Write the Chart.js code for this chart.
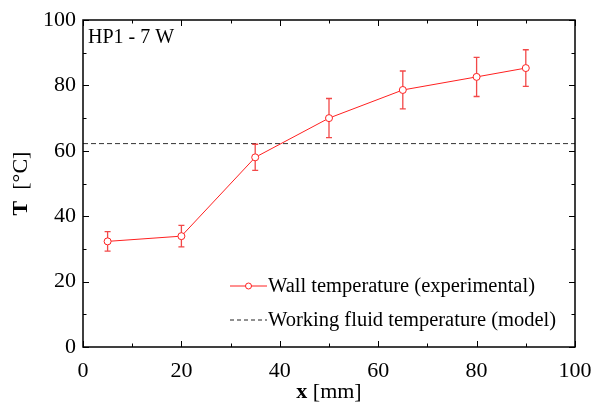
<!DOCTYPE html>
<html>
<head>
<meta charset="utf-8">
<script src="https://cdn.jsdelivr.net/npm/chart.js@4/dist/chart.umd.min.js"></script>
<style>
html,body{margin:0;padding:0;background:#fff;}
#wrap{width:592px;height:405px;position:relative;}
</style>
</head>
<body>
<div id="wrap"><canvas id="c" width="592" height="405"></canvas></div>
<script>
// ---- data ----
const positions = [5, 20, 35, 50, 65, 80, 90];            // x [mm]
const wallTemp = [32.3, 33.9, 58.0, 70.0, 78.6, 82.6, 85.3]; // T [°C]
const wallErr = [3.0, 3.3, 4.0, 6.0, 5.8, 6.0, 5.6];        // ± error
const fluidX = [0, 100];
const fluidT = [62.2, 62.2];
const xTicks = [0, 20, 40, 60, 80, 100];
const yTicks = [0, 20, 40, 60, 80, 100];
const labelWall = 'Wall temperature (experimental)';
const labelFluid = 'Working fluid temperature (model)';
const panelLabel = 'HP1 - 7 W';

const SERIF = '"Liberation Serif", "Times New Roman", serif';

const framePlugin = {
  id: 'frame',
  afterDatasetsDraw(chart) {
    const ctx = chart.ctx, a = chart.chartArea;
    const xs = chart.scales.x, ys = chart.scales.y;
    ctx.save();
    // error bars
    ctx.strokeStyle = 'rgba(240,40,40,0.85)';
    ctx.lineWidth = 1.3;
    for (let i = 0; i < positions.length; i++) {
      const px = xs.getPixelForValue(positions[i]);
      const top = ys.getPixelForValue(wallTemp[i] + wallErr[i]);
      const bot = ys.getPixelForValue(wallTemp[i] - wallErr[i]);
      const cy = ys.getPixelForValue(wallTemp[i]);
      ctx.beginPath();
      ctx.moveTo(px, top); ctx.lineTo(px, cy - 3.5);
      ctx.moveTo(px, cy + 3.5); ctx.lineTo(px, bot);
      ctx.moveTo(px - 3, top); ctx.lineTo(px + 3, top);
      ctx.moveTo(px - 3, bot); ctx.lineTo(px + 3, bot);
      ctx.stroke();
    }
    // frame
    ctx.strokeStyle = '#000';
    ctx.lineWidth = 1.5;
    ctx.strokeRect(a.left, a.top, a.right - a.left, a.bottom - a.top);
    // ticks (inward, mirrored)
    ctx.lineWidth = 1;
    for (let v = 0; v <= 100; v += 10) {
      const len = (v % 20 === 0) ? 6 : 3.5;
      const px = Math.round(xs.getPixelForValue(v)) + 0.5;
      ctx.beginPath();
      ctx.moveTo(px, a.bottom); ctx.lineTo(px, a.bottom - len);
      ctx.moveTo(px, a.top); ctx.lineTo(px, a.top + len);
      ctx.stroke();
      const py = Math.round(ys.getPixelForValue(v)) + 0.5;
      ctx.beginPath();
      ctx.moveTo(a.left, py); ctx.lineTo(a.left + len, py);
      ctx.moveTo(a.right, py); ctx.lineTo(a.right - len, py);
      ctx.stroke();
    }
    // panel label
    ctx.fillStyle = '#000';
    ctx.font = '20px ' + SERIF;
    ctx.textAlign = 'left';
    ctx.textBaseline = 'alphabetic';
    ctx.fillText(panelLabel, a.left + 5, a.top + 23);
    // legend
    const lx0 = 230, lx1 = 267;
    const ly1 = 286, ly2 = 320;
    ctx.strokeStyle = '#ff2020';
    ctx.lineWidth = 1;
    ctx.beginPath(); ctx.moveTo(lx0, ly1); ctx.lineTo(lx1, ly1); ctx.stroke();
    ctx.beginPath(); ctx.arc((lx0 + lx1) / 2, ly1, 3, 0, Math.PI * 2);
    ctx.fillStyle = '#fff'; ctx.fill(); ctx.stroke();
    ctx.strokeStyle = '#222';
    ctx.setLineDash([4, 3]);
    ctx.beginPath(); ctx.moveTo(lx0, ly2); ctx.lineTo(lx1, ly2); ctx.stroke();
    ctx.setLineDash([]);
    ctx.fillStyle = '#000';
    ctx.font = '20.5px ' + SERIF;
    ctx.textBaseline = 'middle';
    ctx.fillText(labelWall, lx1 + 1, ly1 + 1);
    ctx.fillText(labelFluid, lx1 + 1, ly2 + 1);
    // axis titles
    const drawMixed = (parts, cx, cy) => {
      let w = 0;
      parts.forEach(p => { ctx.font = p[1] + ' 22px ' + SERIF; w += ctx.measureText(p[0]).width; });
      let x = cx - w / 2;
      parts.forEach(p => { ctx.font = p[1] + ' 22px ' + SERIF; ctx.fillText(p[0], x, cy); x += ctx.measureText(p[0]).width; });
    };
    ctx.textBaseline = 'middle';
    drawMixed([['x', 'bold'], [' [mm]', 'normal']], (a.left + a.right) / 2, 392);
    ctx.save();
    ctx.translate(21, (a.top + a.bottom) / 2);
    ctx.rotate(-Math.PI / 2);
    drawMixed([['T', 'bold'], ['  [°C]', 'normal']], 0, 0);
    ctx.restore();
    ctx.restore();
  }
};

new Chart(document.getElementById('c'), {
  type: 'scatter',
  data: {
    datasets: [
      {
        label: labelWall,
        data: positions.map((x, i) => ({ x: x, y: wallTemp[i] })),
        showLine: true,
        borderColor: '#ff2020',
        borderWidth: 1,
        backgroundColor: '#ffffff',
        pointBorderColor: '#ff2020',
        pointBackgroundColor: '#ffffff',
        pointRadius: 3.5,
        pointBorderWidth: 1,
        order: 1
      },
      {
        label: labelFluid,
        data: fluidX.map((x, i) => ({ x: x, y: fluidT[i] })),
        showLine: true,
        borderColor: '#333',
        borderWidth: 1,
        borderDash: [5, 3],
        pointRadius: 0,
        order: 2
      }
    ]
  },
  options: {
    responsive: false,
    animation: false,
    layout: { padding: { top: 20, right: 17, left: 0, bottom: 0 } },
    plugins: { legend: { display: false }, tooltip: { enabled: false } },
    scales: {
      x: {
        type: 'linear', min: 0, max: 100,
        afterBuildTicks: s => { s.ticks = xTicks.map(v => ({ value: v })); },
        afterFit: s => { s.height = 58; s.paddingLeft = 0; s.paddingRight = 0; },
        grid: { display: false, drawTicks: false },
        border: { display: false },
        ticks: { color: '#000', padding: 11, maxRotation: 0, font: { family: SERIF, size: 22 } }
      },
      y: {
        type: 'linear', min: 0, max: 100,
        afterBuildTicks: s => { s.ticks = yTicks.map(v => ({ value: v })); },
        afterFit: s => { s.width = 83; s.paddingTop = 0; s.paddingBottom = 0; },
        grid: { display: false, drawTicks: false },
        border: { display: false },
        ticks: { color: '#000', padding: 7, font: { family: SERIF, size: 22 } }
      }
    }
  },
  plugins: [framePlugin]
});
</script>
</body>
</html>
